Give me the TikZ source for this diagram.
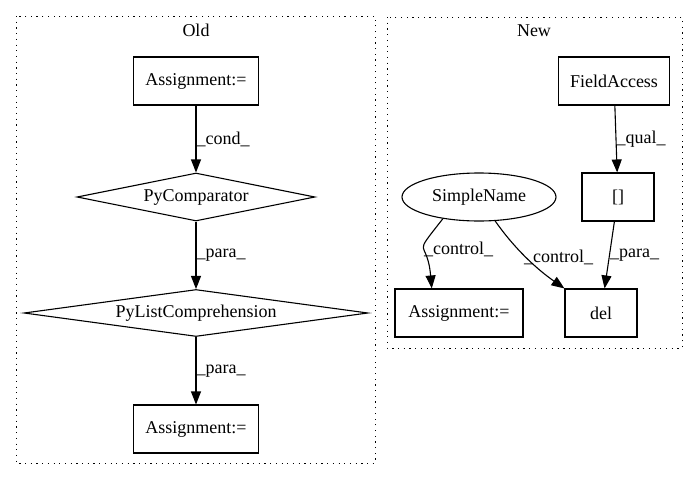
\documentclass[tikz,border=0pt]{standalone}
\usepackage{fontspec}
\setmainfont{Liberation Serif}
\usetikzlibrary{arrows.meta, shapes.geometric}

\tikzset{
	box/.style = {draw, rectangle, minimum height=48pt, inner sep=0pt},
	cmp/.style = {draw, diamond, aspect=7, inner sep=0pt},
	oval/.style = {draw, ellipse, inner sep=0pt},
	lbl/.style = {anchor=west, inner sep=0pt},
	cluster/.style = {line width=1pt, dash pattern=on 1.2pt off 4.5pt},
}

\begin{document}
\begin{tikzpicture}[x=1pt, y=-1pt, line width=1.1pt, font=\fontsize{18}{20}\selectfont]
			\useasboundingbox (0,0) rectangle (697,480);

			% old
			\draw[cluster] (16,16) rectangle (375,463);
			\node (old) at (196,30) {Old};
			\node [box, minimum width=125pt] (asg1) at (196,81) {Assignment:=};
			\node [cmp, minimum width=238pt, minimum height=48pt] (cmp) at (196,197) {PyComparator};
			\node [cmp, minimum width=344pt, minimum height=47pt] (lc) at (196,313) {PyListComprehension};
			\node [box, minimum width=125pt] (asg2) at (196,429) {Assignment:=};

			% new
			\draw[cluster] (387,17) rectangle (682,348);
			\node (new) at (534,31) {New};
			\node [box, minimum width=111pt] (fa) at (614,81) {FieldAccess};
			\node [box, minimum width=72pt] (sq) at (618,197) {[]};
			\node [oval, minimum width=154pt, minimum height=48pt] (sn) at (479,197) {SimpleName};
			\node [box, minimum width=128pt] (asg3) at (459,313) {Assignment:=};
			\node [box, minimum width=72pt] (del) at (601,313) {del};

			\begin{scope}[-{Triangle[length=13pt, width=10pt]}]
				\draw (asg1) -- (cmp) node [lbl, midway] (l1) {\_cond\_};
				\draw (cmp) -- (lc) node [lbl, midway] (l2) {\_para\_};
				\draw (lc) -- (asg2) node [lbl, midway] (l3) {\_para\_};
				\draw (fa) -- (sq) node [lbl, midway] (l4) {\_qual\_};
				\draw (sq) -- (del) node [lbl, midway] (l5) {\_para\_};
				\draw (sn.211) to [out=232, in=95, looseness=1.9] node [lbl] (l6) {\_control\_} (asg3.138);
				\draw (sn.-56) to [out=-55, in=145, looseness=0.9] node [lbl, xshift=-3pt] (l7) {\_control\_} (del.north west);
			\end{scope}
		\end{tikzpicture}
\end{document}
